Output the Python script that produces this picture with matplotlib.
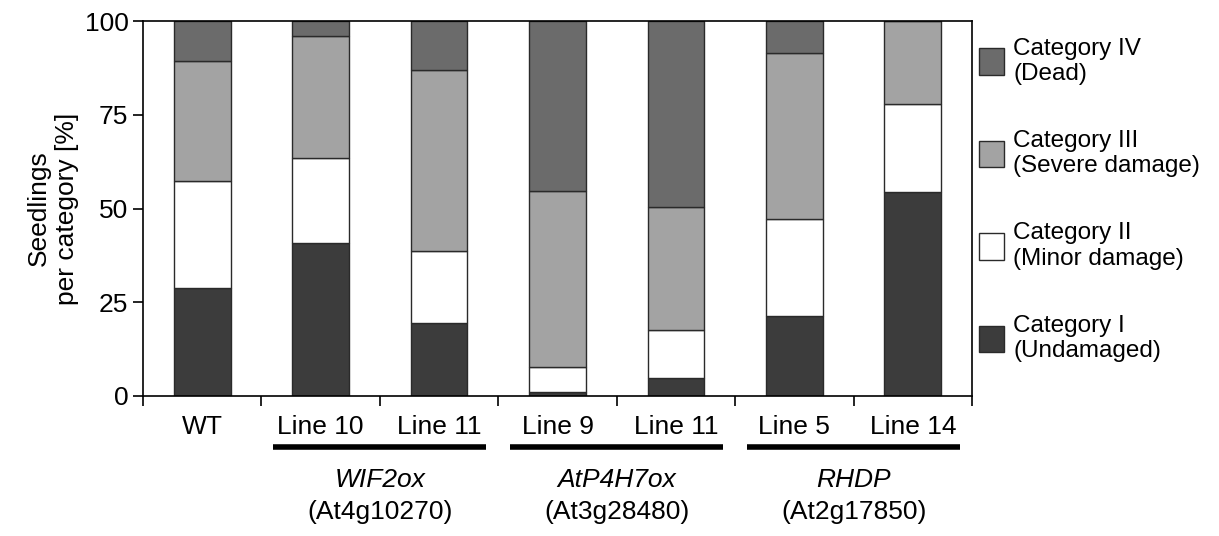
import matplotlib
matplotlib.use("Agg")
import matplotlib.pyplot as plt
from matplotlib.patches import Patch

plt.rcParams['font.family'] = ['Liberation Sans', 'DejaVu Sans']

# data (% seedlings per category)
lines = ["WT", "Line 10", "Line 11", "Line 9", "Line 11", "Line 5", "Line 14"]
cat1 = [28.8, 40.8, 19.5, 1.1, 4.8, 21.4, 54.3]    # Undamaged
cat2 = [28.5, 22.7, 19.2, 6.6, 12.8, 25.9, 23.6]   # Minor damage
cat3 = [32.0, 32.5, 48.2, 47.0, 32.8, 44.1, 22.1]  # Severe damage
cat4 = [10.7, 4.0, 13.1, 45.3, 49.6, 8.6, 0.0]     # Dead

groups = ["WIF2ox", "AtP4H7ox", "RHDP"]
group_ids = ["(At4g10270)", "(At3g28480)", "(At2g17850)"]
group_members = [(1, 2), (3, 4), (5, 6)]

colors = ["#3c3c3c", "#ffffff", "#a3a3a3", "#6b6b6b"]
labels = ["Category I\n(Undamaged)", "Category II\n(Minor damage)",
          "Category III\n(Severe damage)", "Category IV\n(Dead)"]

fig = plt.figure(figsize=(12.19, 5.36), dpi=100)
ax = fig.add_axes([0.1173, 0.2612, 0.6801, 0.6996])

x = list(range(len(lines)))
bottom = [0.0] * len(lines)
handles = []
for vals, c, lab in zip([cat1, cat2, cat3, cat4], colors, labels):
    ax.bar(x, vals, width=0.48, bottom=bottom, color=c, edgecolor="#2a2a2a", linewidth=1.0)
    bottom = [b + v for b, v in zip(bottom, vals)]
    handles.append(Patch(facecolor=c, edgecolor="#2a2a2a", linewidth=1.0, label=lab))

ax.set_xlim(-0.5, len(lines) - 0.5)
ax.set_ylim(0, 100)
ax.set_yticks([0, 25, 50, 75, 100])
ax.tick_params(axis="y", labelsize=19, direction="out", length=7, width=1.2)
ax.set_xticks([i - 0.5 for i in range(len(lines) + 1)], minor=True)
ax.set_xticks(x)
ax.set_xticklabels(lines, fontsize=19)
ax.tick_params(axis="x", which="major", length=0, pad=14)
ax.tick_params(axis="x", which="minor", direction="out", length=7, width=1.2)
for s in ax.spines.values():
    s.set_linewidth(1.2)

ax.set_ylabel("Seedlings\nper category [%]", fontsize=19, labelpad=4)

# group underlines and labels
for name, gid, (a, b) in zip(groups, group_ids, group_members):
    ax.plot([a - 0.4, b + 0.4], [-13.5, -13.5], color="black", linewidth=4,
            clip_on=False, solid_capstyle="butt")
    xc = (a + b) / 2
    ax.text(xc, -22.5, name, fontsize=19, style="italic", ha="center", va="center")
    ax.text(xc, -31, gid, fontsize=19, ha="center", va="center")

ax.legend(handles[::-1], labels[::-1], loc="upper left", bbox_to_anchor=(1.0, 0.975),
          frameon=False, fontsize=17.5, handlelength=1.0, handleheight=1.3,
          labelspacing=1.85, handletextpad=0.4, borderaxespad=0.0, borderpad=0.3)

fig.savefig("out.png", dpi=100)
